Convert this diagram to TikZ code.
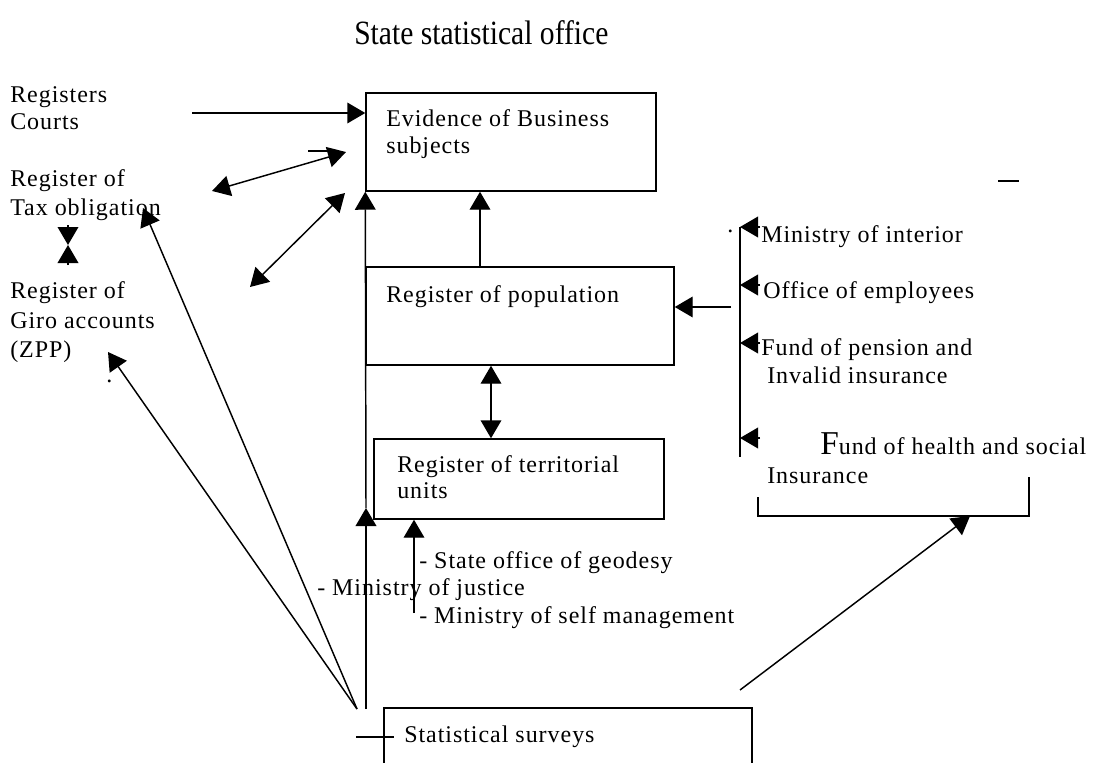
\documentclass[tikz,border=0pt]{standalone}
\usepackage{fontspec}
\setmainfont{Liberation Serif}
\newfontfamily\labfont{Liberation Serif}[LetterSpace=4]
\newfontfamily\ttlfont{Liberation Serif}[FakeStretch=0.87]
\usetikzlibrary{arrows.meta}
\begin{document}
\begin{tikzpicture}[x=0.75pt,y=-0.75pt,
  ln/.style={line width=1.1pt},
  boxnode/.style={draw, line width=1.1pt, inner sep=0pt, rectangle},
  lab/.style={font=\labfont\fontsize{18}{20.25}\selectfont, anchor=base west, inner sep=0pt},
  arr/.style={ln, -{Triangle[length=13.5pt,width=15.5pt]}},
  darr/.style={ln, {Triangle[length=13.5pt,width=15.5pt]}-{Triangle[length=13.5pt,width=15.5pt]}}]
\useasboundingbox (0,0) rectangle (1095,763);
\fill[white] (0,0) rectangle (1095,763);

% title
\node[font=\ttlfont\fontsize{25.5}{25.5}\selectfont, anchor=base west, inner sep=0pt] (title) at (354,45) {State statistical office};

% boxes
\node[boxnode, minimum width=217.5pt, minimum height=73.5pt] (evid) at (511,142) {};
\node[boxnode, minimum width=231pt, minimum height=73.5pt] (pop) at (520,316) {};
\node[boxnode, minimum width=217.5pt, minimum height=60pt] (terr) at (519,479) {};
\coordinate (survL) at (384,708);
\coordinate (survR) at (752,708);
\draw[ln] (384,764) -- (survL) -- (survR) -- (752,764);

% box texts
\node[lab] (evidT1) at (386,127) {Evidence of Business};
\node[lab] (evidT2) at (386,154) {subjects};
\node[lab] (popT) at (386,302) {Register of population};
\node[lab] (terrT1) at (397,472) {Register of territorial};
\node[lab] (terrT2) at (397,498) {units};
\node[lab] (survT) at (404,742) {Statistical surveys};

% left texts
\node[lab] (regC1) at (10,103) {Registers};
\node[lab] (regC2) at (10,130) {Courts};
\node[lab] (tax1) at (10,186) {Register of};
\node[lab] (tax2) at (10,215) {Tax obligation};
\node[lab] (giro1) at (10,298) {Register of};
\node[lab] (giro2) at (10,328) {Giro accounts};
\node[lab] (giro3) at (10,357) {(ZPP)};
\node[lab] (dot1) at (106,382) {.};

% lower texts
\node[lab] (geo) at (419,568) {- State office of geodesy};
\node[lab] (just) at (317,595) {- Ministry of justice};
\node[lab] (self) at (419,623) {- Ministry of self management};

% right texts
\node[lab] (dot2) at (727,232) {.};
\node[lab] (mint) at (761,242) {Ministry of interior};
\node[lab] (emp) at (763,298) {Office of employees};
\node[lab] (pen1) at (761,355) {Fund of pension and};
\node[lab] (pen2) at (767,383) {Invalid insurance};
\node[lab] (hea1) at (820,454) {{\fontsize{25}{25}\selectfont F}und of health and social};
\node[lab] (hea2) at (767,483) {Insurance};

% connectors left
\coordinate (rc) at (192,113);
\draw[arr] (rc) -- (evid.west |- rc);
\coordinate (d1a) at (212,191);
\coordinate (d1b) at (346,152);
\draw[darr] (d1a) -- (d1b);
\draw[ln] (308,151) -- (330,151);
\coordinate (d2a) at (250,287);
\coordinate (d2b) at (345,193);
\draw[darr] (d2a) -- (d2b);
\coordinate (hgT) at (68,225);
\coordinate (hg) at (68,245);
\coordinate (hgB) at (68,265);
\draw[arr] (hgT) -- (hg);
\draw[arr] (hgB) -- (hg);

% fan from surveys
\coordinate (fan) at (357,709);
\coordinate (taxTip) at (143,208);
\coordinate (giroTip) at (108,352);
\draw[arr] (fan) -- (taxTip);
\draw[arr] (fan) -- (giroTip);
\coordinate (vb) at (366,709);
\coordinate (vm) at (366,508);
\draw[arr] (vb) -- (vm);
\draw[arr] (vm) -- (evid.south west);
\draw[ln] (356,737) -- (394,737);

% middle connectors
\coordinate (x480) at (480,0);
\draw[arr] (pop.north -| x480) -- (evid.south -| x480);
\coordinate (x491) at (491,0);
\draw[darr] (pop.south -| x491) -- (terr.north -| x491);
\coordinate (g0) at (414,613);
\draw[arr] (g0) -- (terr.south -| g0);

% right group
\draw[ln] (740,227) -- (740,457);
\foreach \yy/\nm in {227/a1,285/a2,343/a3,438/a4}{
  \coordinate (\nm) at (740,\yy);
  \draw[arr] (760,\yy) -- (\nm);
}
\coordinate (rg) at (731,307);
\draw[arr] (rg) -- (pop.east |- rg);
\coordinate (brk) at (970,516);
\draw[ln] (758,497) -- (758,516) -- (1029,516) -- (1029,477);
\coordinate (s2) at (740,690);
\draw[arr] (s2) -- (brk);
\draw[ln] (998,181) -- (1019,181);
\end{tikzpicture}
\end{document}
